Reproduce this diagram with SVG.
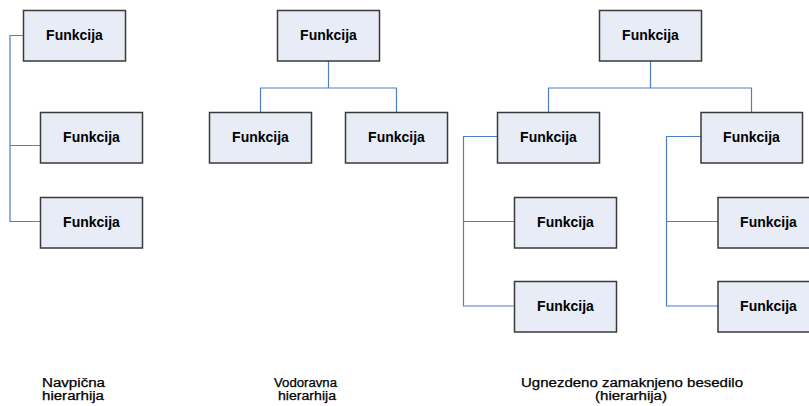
<svg xmlns="http://www.w3.org/2000/svg" width="809" height="406" viewBox="0 0 809 406">
<style>
.box{fill:#e7ecf6;stroke:#3a3a3a;stroke-width:1.5}
.t{font-family:"Liberation Sans",Arial,sans-serif;font-size:14px;font-weight:bold;fill:#000;text-anchor:middle}
.lbl{font-family:"Liberation Sans",Arial,sans-serif;font-size:12.5px;fill:#000;stroke:#000;stroke-width:0.25;text-anchor:middle}
.c{fill:none;stroke:#4f7fc4;stroke-width:1.2}
</style>
<rect width="809" height="406" fill="#fff"/>
<g id="connectors">
<path class="c" d="M23,35.5 H10 V221.5 H40 M10,145.5 H40"/>
<path class="c" d="M328.5,61 V88 M260.5,112 V88 H396.5 V112"/>
<path class="c" d="M650.5,61 V88 M548.5,112 V88 H751.5 V112"/>
<path class="c" d="M497,136.5 H463.5 V306 H514 M463.5,221.5 H514"/>
<path class="c" d="M701,136.5 H666.5 V306 H718 M666.5,221.5 H718"/>
</g>
<g id="n1"><rect class="box" x="23.5" y="10.5" width="102" height="50.5"/><text class="t" x="74.5" y="39.5">Funkcija</text></g>
<g id="n2"><rect class="box" x="40.5" y="112.5" width="102" height="50.5"/><text class="t" x="91.5" y="141.5">Funkcija</text></g>
<g id="n3"><rect class="box" x="40.5" y="197.5" width="102" height="50.5"/><text class="t" x="91.5" y="226.5">Funkcija</text></g>
<g id="n4"><rect class="box" x="277.5" y="10.5" width="102" height="50.5"/><text class="t" x="328.5" y="39.5">Funkcija</text></g>
<g id="n5"><rect class="box" x="209.5" y="112.5" width="102" height="50.5"/><text class="t" x="260.5" y="141.5">Funkcija</text></g>
<g id="n6"><rect class="box" x="345.5" y="112.5" width="102" height="50.5"/><text class="t" x="396.5" y="141.5">Funkcija</text></g>
<g id="n7"><rect class="box" x="599.5" y="10.5" width="102" height="50.5"/><text class="t" x="650.5" y="39.5">Funkcija</text></g>
<g id="n8"><rect class="box" x="497.5" y="112.5" width="102" height="50.5"/><text class="t" x="548.5" y="141.5">Funkcija</text></g>
<g id="n9"><rect class="box" x="701" y="112.5" width="101.5" height="50.5"/><text class="t" x="751.5" y="141.5">Funkcija</text></g>
<g id="n10"><rect class="box" x="514.5" y="197.5" width="102" height="50.5"/><text class="t" x="565.5" y="226.5">Funkcija</text></g>
<g id="n11"><rect class="box" x="514.5" y="281.5" width="102" height="50.5"/><text class="t" x="565.5" y="310.5">Funkcija</text></g>
<g id="n12"><rect class="box" x="718" y="197.5" width="102" height="50.5"/><text class="t" x="768.5" y="226.5">Funkcija</text></g>
<g id="n13"><rect class="box" x="718" y="281.5" width="102" height="50.5"/><text class="t" x="768.5" y="310.5">Funkcija</text></g>
<g id="labels">
<text class="lbl" x="73.5" y="386.5" textLength="63" lengthAdjust="spacingAndGlyphs">Navpična</text>
<text class="lbl" x="73" y="400" textLength="62" lengthAdjust="spacingAndGlyphs">hierarhija</text>
<text class="lbl" x="305.5" y="386.5" textLength="63" lengthAdjust="spacingAndGlyphs">Vodoravna</text>
<text class="lbl" x="307" y="400" textLength="58" lengthAdjust="spacingAndGlyphs">hierarhija</text>
<text class="lbl" x="632" y="386.5" textLength="222" lengthAdjust="spacingAndGlyphs">Ugnezdeno zamaknjeno besedilo</text>
<text class="lbl" x="631" y="400" textLength="72" lengthAdjust="spacingAndGlyphs">(hierarhija)</text>
</g>
</svg>
